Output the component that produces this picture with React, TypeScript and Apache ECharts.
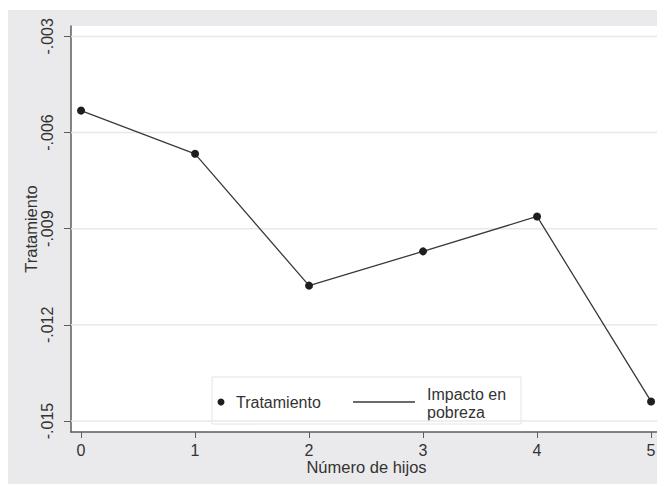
import React, { useEffect, useRef } from "react";
import * as echarts from "echarts";

const hijos = [0, 1, 2, 3, 4, 5];
const tratamiento = [-0.005315, -0.006664, -0.010776, -0.009707, -0.008617, -0.01439];
const yTicks = [-0.003, -0.006, -0.009, -0.012, -0.015];
const xTicks = [0, 1, 2, 3, 4, 5];
const seriesName = "Tratamiento";
const lineName = "Impacto en\npobreza";

const FONT = "'Liberation Sans', Arial, Helvetica, sans-serif";
const X_MIN = -0.088;
const X_MAX = 5.096;

export default function App() {
  const ref = useRef<HTMLDivElement>(null);
  useEffect(() => {
    if (!ref.current) return;
    const chart = echarts.init(ref.current, undefined, { renderer: "svg" });
    const axisColor = "#5c5c5c";
    const gridSeries = yTicks.map((v) => ({
      type: "line",
      silent: true,
      symbol: "none",
      data: [
        [X_MIN, v],
        [X_MAX, v],
      ],
      lineStyle: { color: "#e8e8e8", width: 1.5 },
      z: 1,
      tooltip: { show: false },
    }));
    chart.setOption({
      animation: false,
      backgroundColor: "#eaeaec",
      textStyle: { fontFamily: FONT },
      grid: {
        left: 63,
        right: 3,
        top: 16,
        bottom: 52,
        show: true,
        backgroundColor: "#ffffff",
        borderWidth: 0,
      },
      xAxis: {
        type: "value",
        min: X_MIN,
        max: X_MAX,
        name: "Número de hijos",
        nameLocation: "middle",
        nameGap: 26,
        nameMoveOverlap: false,
        nameTextStyle: { fontSize: 16.5, color: "#333", fontFamily: FONT },
        axisLine: { show: true, onZero: false, lineStyle: { color: axisColor, width: 1.5 } },
        axisTick: { show: true, length: 6, customValues: xTicks, lineStyle: { color: axisColor, width: 1 } },
        axisLabel: {
          customValues: xTicks,
          margin: 10,
          fontSize: 16,
          color: "#333",
          fontFamily: FONT,
          formatter: (v: number) => String(Math.round(v)),
        },
        splitLine: { show: false },
      },
      yAxis: {
        type: "value",
        min: -0.015343,
        max: -0.002676,
        name: "Tratamiento",
        nameLocation: "middle",
        nameGap: 32,
        nameMoveOverlap: false,
        nameTextStyle: { fontSize: 16.5, color: "#333", fontFamily: FONT },
        axisLine: { show: true, onZero: false, lineStyle: { color: axisColor, width: 1.5 } },
        axisTick: { show: true, length: 7, customValues: yTicks, lineStyle: { color: axisColor, width: 1 } },
        axisLabel: {
          customValues: yTicks,
          rotate: 90,
          margin: 16,
          fontSize: 16,
          color: "#333",
          fontFamily: FONT,
          formatter: (v: number) => v.toFixed(3).replace("0.", "."),
        },
        splitLine: { show: false },
      },
      series: [
        ...gridSeries,
        {
          name: seriesName,
          type: "line",
          data: hijos.map((h, i) => [h, tratamiento[i]]),
          symbol: "circle",
          symbolSize: 8,
          itemStyle: { color: "#1e1e1e" },
          lineStyle: { color: "#3a3a3a", width: 1.3 },
          z: 3,
        },
      ],
      graphic: [
        {
          type: "group",
          z: 10,
          children: [
            {
              type: "rect",
              shape: { x: 204, y: 367, width: 309, height: 47 },
              style: { fill: "#ffffff", stroke: "#e4e4e4", lineWidth: 1 },
            },
            {
              type: "circle",
              shape: { cx: 213, cy: 392, r: 3.5 },
              style: { fill: "#1e1e1e" },
            },
            {
              type: "text",
              x: 228,
              y: 392,
              style: {
                text: seriesName,
                font: `16px ${FONT}`,
                fill: "#333",
                verticalAlign: "middle",
                align: "left",
              },
            },
            {
              type: "line",
              shape: { x1: 345, y1: 392, x2: 407, y2: 392 },
              style: { stroke: "#3a3a3a", lineWidth: 1.3 },
            },
            {
              type: "text",
              x: 419,
              y: 393,
              style: {
                text: lineName,
                font: `16px ${FONT}`,
                fill: "#333",
                lineHeight: 18,
                verticalAlign: "middle",
                align: "left",
              },
            },
          ],
        },
      ],
    });
    return () => chart.dispose();
  }, []);
  return (
    <div style={{ paddingTop: 2 }}>
      <div ref={ref} style={{ width: 657, height: 474 }} />
    </div>
  );
}
